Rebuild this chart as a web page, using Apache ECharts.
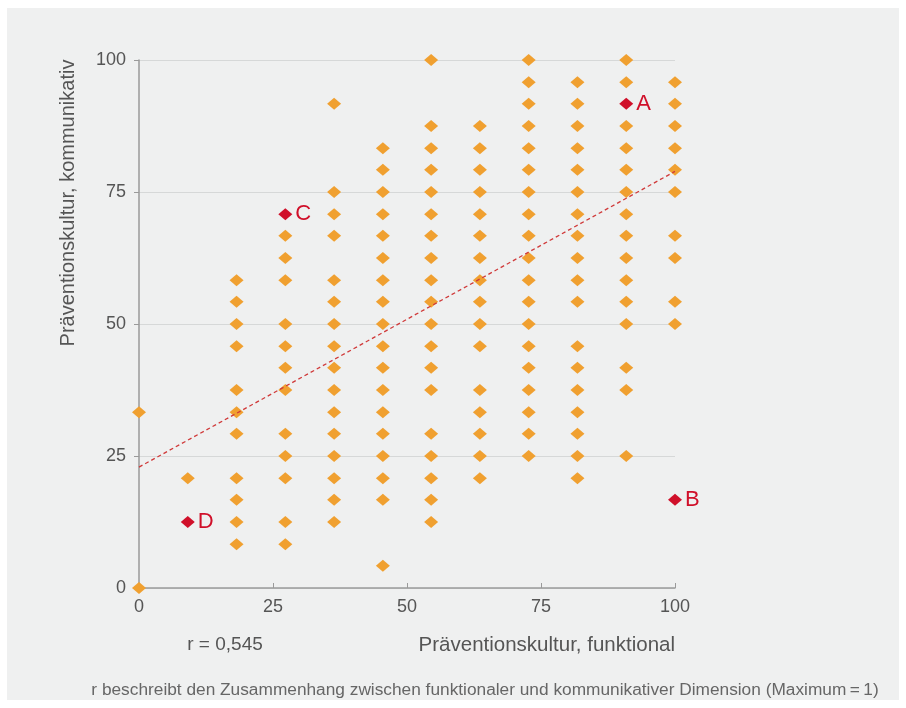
<!DOCTYPE html>
<html><head><meta charset="utf-8">
<script src="https://cdn.jsdelivr.net/npm/echarts@6/dist/echarts.min.js"></script>
<style>html,body{margin:0;padding:0;background:#fff}#c{width:906px;height:708px}</style>
</head><body><div id="c"></div>
<script>
// x positions of the 12 columns (functional dimension)
const xColumns = [0, 9.1, 18.2, 27.3, 36.4, 45.5, 54.5, 63.6, 72.7, 81.8, 90.9, 100];
// y values (communicative dimension) found in each column
const col0 = [0, 33.3];
const col1 = [20.8];
const col2 = [8.3, 12.5, 16.7, 20.8, 29.2, 33.3, 37.5, 45.8, 50, 54.2, 58.3];
const col3 = [8.3, 12.5, 20.8, 25, 29.2, 37.5, 41.7, 45.8, 50, 58.3, 62.5, 66.7];
const col4 = [12.5, 16.7, 20.8, 25, 29.2, 33.3, 37.5, 41.7, 45.8, 50, 54.2, 58.3, 66.7, 70.8, 75, 91.7];
const col5 = [4.2, 16.7, 20.8, 25, 29.2, 33.3, 37.5, 41.7, 45.8, 50, 54.2, 58.3, 62.5, 66.7, 70.8, 75, 79.2, 83.3];
const col6 = [12.5, 16.7, 20.8, 25, 29.2, 37.5, 41.7, 45.8, 50, 54.2, 58.3, 62.5, 66.7, 70.8, 75, 79.2, 83.3, 87.5, 100];
const col7 = [20.8, 25, 29.2, 33.3, 37.5, 45.8, 50, 54.2, 58.3, 62.5, 66.7, 70.8, 75, 79.2, 83.3, 87.5];
const col8 = [25, 29.2, 33.3, 37.5, 41.7, 45.8, 50, 54.2, 58.3, 62.5, 66.7, 70.8, 75, 79.2, 83.3, 87.5, 91.7, 95.8, 100];
const col9 = [20.8, 25, 29.2, 33.3, 37.5, 41.7, 45.8, 54.2, 58.3, 62.5, 66.7, 70.8, 75, 79.2, 83.3, 87.5, 91.7, 95.8];
const col10 = [25, 37.5, 41.7, 50, 54.2, 58.3, 62.5, 66.7, 70.8, 75, 79.2, 83.3, 87.5, 95.8, 100];
const col11 = [50, 54.2, 62.5, 66.7, 75, 79.2, 83.3, 87.5, 91.7, 95.8];
const columns = [col0, col1, col2, col3, col4, col5, col6, col7, col8, col9, col10, col11];

// highlighted cases
const highlightNames = ['A', 'B', 'C', 'D'];
const highlightX = [90.9, 100, 27.3, 9.1];
const highlightY = [91.7, 16.7, 70.8, 12.5];

// regression line end points
const trendX = [0, 100];
const trendY = [22.9, 78.9];

const xTicks = [0, 25, 50, 75, 100];
const yTicks = [0, 25, 50, 75, 100];

const points = [];
columns.forEach((c, i) => c.forEach(v => points.push([xColumns[i], v])));
const highlights = highlightNames.map((n, i) => ({ value: [highlightX[i], highlightY[i]], name: n }));
const trend = trendX.map((x, i) => [x, trendY[i]]);

const font = '"Liberation Sans", Arial, sans-serif';
const textGray = '#555';

const chart = echarts.init(document.getElementById('c'), null, { renderer: 'canvas' });
chart.setOption({
  animation: false,
  backgroundColor: '#fff',
  graphic: [
    { type: 'rect', z: -10, shape: { x: 7, y: 8, width: 892, height: 692 }, style: { fill: '#eff0f0' } },
    { type: 'text', z: 5, style: { text: 'r = 0,545', x: 225, y: 645, textAlign: 'center', textVerticalAlign: 'middle', font: '19px ' + font, fill: textGray } },
    { type: 'text', z: 5, style: { text: 'Präventionskultur, funktional', x: 675, y: 645, textAlign: 'right', textVerticalAlign: 'middle', font: '20.5px ' + font, fill: textGray } },
    { type: 'text', z: 5, x: 68, y: 203, rotation: Math.PI / 2, style: { text: 'Präventionskultur, kommunikativ', x: 0, y: 0, textAlign: 'center', textVerticalAlign: 'middle', font: '20px ' + font, fill: textGray } },
    { type: 'text', z: 5, style: { text: 'r beschreibt den Zusammenhang zwischen funktionaler und kommunikativer Dimension (Maximum\u2009=\u20091)', x: 485, y: 690, textAlign: 'center', textVerticalAlign: 'middle', font: '17.3px ' + font, fill: '#666' } }
  ],
  grid: { left: 139, right: 231, top: 60, bottom: 120, containLabel: false },
  xAxis: {
    type: 'value', min: 0, max: 100, interval: 25,
    axisLine: { show: true, lineStyle: { color: '#9a9a9a', width: 1.5 } },
    axisTick: { show: true, inside: true, length: 5, lineStyle: { color: '#9a9a9a' } },
    splitLine: { show: false },
    axisLabel: { color: textGray, fontFamily: font, fontSize: 18, margin: 10, formatter: v => xTicks.includes(v) ? String(v) : '' }
  },
  yAxis: {
    type: 'value', min: 0, max: 100, interval: 25,
    axisLine: { show: true, lineStyle: { color: '#9a9a9a', width: 1.5 } },
    axisTick: { show: true, inside: false, length: 5, lineStyle: { color: '#9a9a9a' } },
    splitLine: { show: true, lineStyle: { color: '#d6d8d8', width: 1 } },
    axisLabel: { color: textGray, fontFamily: font, fontSize: 18, margin: 13, formatter: v => yTicks.includes(v) ? String(v) : '' }
  },
  series: [
    {
      type: 'scatter', data: points, symbol: 'diamond', symbolSize: [14, 12],
      itemStyle: { color: '#f0a030', opacity: 1 }, z: 3
    },
    {
      type: 'line', data: trend, symbol: 'none', z: 4,
      lineStyle: { color: '#d03a3a', width: 1.3, type: [4, 3] }
    },
    {
      type: 'scatter', data: highlights, symbol: 'diamond', symbolSize: [14, 12],
      itemStyle: { color: '#d0102a', opacity: 1 }, z: 5,
      label: { show: true, position: 'right', distance: 3, formatter: p => p.name, color: '#d0102a', fontFamily: font, fontSize: 22 }
    }
  ]
});
</script></body></html>
